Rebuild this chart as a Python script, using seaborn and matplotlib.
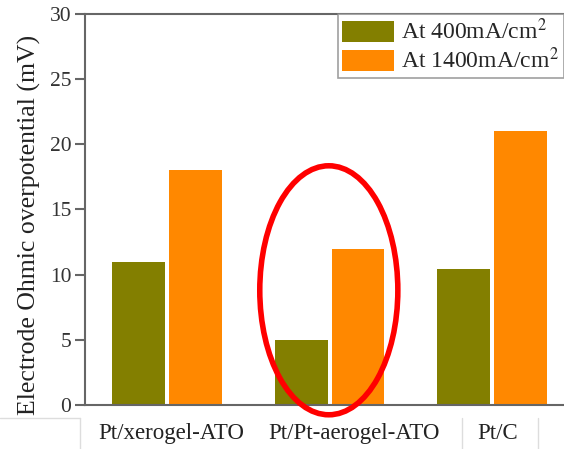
import matplotlib
matplotlib.use("Agg")
import matplotlib.pyplot as plt
import matplotlib.transforms as mtransforms
from matplotlib.patches import Ellipse
from matplotlib.lines import Line2D
import seaborn as sns
import pandas as pd

catalysts = ["Pt/xerogel-ATO", "Pt/Pt-aerogel-ATO", "Pt/C"]
ohmic_400 = [11.0, 5.0, 10.4]
ohmic_1400 = [18.0, 12.0, 21.0]
series_names = ["At 400mA/cm$^2$", "At 1400mA/cm$^2$"]
colors = ["#837f00", "#ff8800"]
yticks = [0, 5, 10, 15, 20, 25, 30]

df = pd.DataFrame({
    "catalyst": catalysts * 2,
    "value": ohmic_400 + ohmic_1400,
    "series": [series_names[0]] * 3 + [series_names[1]] * 3,
})

sns.set_style("white")
plt.rcParams["font.family"] = ["Liberation Serif", "DejaVu Serif"]
plt.rcParams["mathtext.fontset"] = "stix"

fig = plt.figure(figsize=(5.64, 4.49), dpi=100)
ax = fig.add_axes([0.151, 0.098, 0.849, 0.871])

sns.barplot(data=df, x="catalyst", y="value", hue="series",
            palette=colors, width=0.7, gap=0.07, saturation=1,
            edgecolor="none", ax=ax, legend=True)

ax.set_xlim(-0.505, 2.443)
ax.set_ylim(0, 30)
ax.set_yticks(yticks)
ax.set_xlabel("")
ax.set_ylabel("Electrode Ohmic overpotential (mV)", fontsize=18.5, color="#222222")
ax.yaxis.set_label_coords(-0.092, 0.46)

for side in ["left", "top", "bottom"]:
    ax.spines[side].set_color("#666666")
    ax.spines[side].set_linewidth(1.5)
ax.spines["right"].set_visible(False)

ax.tick_params(axis="y", direction="out", length=7, width=1.5, color="#666666",
               labelsize=15.5, labelcolor="#333333", pad=3, left=True)
ax.tick_params(axis="x", length=0, labelsize=16.5, labelcolor="#222222", pad=13)

# category labels sit in their own cells, slightly offset from the bar groups
offsets = [4, 24, 6]
for lbl, dx in zip(ax.get_xticklabels(), offsets):
    lbl.set_transform(lbl.get_transform() +
                      mtransforms.ScaledTranslation(dx / 100, 0, fig.dpi_scale_trans))

leg = ax.legend(loc="upper right", fontsize=17, frameon=True, fancybox=False,
                borderaxespad=0, handlelength=2.2, handleheight=1.0,
                handletextpad=0.3, borderpad=0.2, labelspacing=0.15)
leg.get_frame().set_edgecolor("#888888")
leg.get_frame().set_linewidth(1.2)

# highlight the aerogel catalyst
ax.add_patch(Ellipse((0.995, 8.8), 0.85, 19.1, fill=False, edgecolor="#ff0000",
                     linewidth=4, clip_on=False, zorder=5))

# faint cell borders beneath the axis
for x in [80, 462, 538]:
    fig.add_artist(Line2D([x / 564, x / 564], [0, 1 - 418 / 449],
                          color="#dddddd", linewidth=1))
fig.add_artist(Line2D([0, 80 / 564], [1 - 418 / 449] * 2, color="#dddddd", linewidth=1))

fig.savefig("out.png", dpi=100)
